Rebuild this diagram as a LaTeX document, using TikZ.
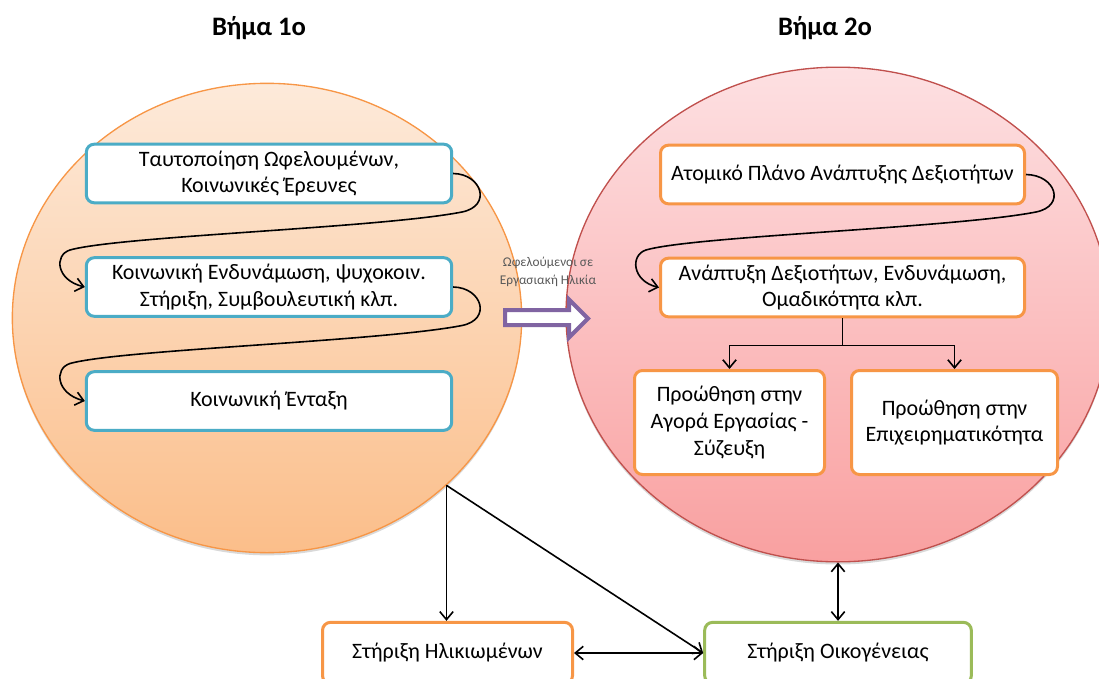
\documentclass[tikz,border=0pt]{standalone}
\usepackage{fontspec}
\setmainfont{Carlito}
\usepackage{tikz}
\usetikzlibrary{arrows.meta,shapes.geometric,shadows,calc}
\definecolor{stblue}{RGB}{75,172,198}
\definecolor{storange}{RGB}{247,150,70}
\definecolor{stgreen}{RGB}{155,187,89}
\definecolor{stpurple}{RGB}{128,100,162}
\definecolor{stred}{RGB}{192,80,77}
\definecolor{stpeachtop}{RGB}{253,234,218}
\definecolor{stpeachbot}{RGB}{251,190,138}
\definecolor{stpinktop}{RGB}{253,224,226}
\definecolor{stpinkbot}{RGB}{249,160,160}
\definecolor{stgray}{RGB}{89,89,89}
\tikzstyle{flow} = [line width=1.2pt,->,>={Straight Barb[length=6pt,width=10pt]}]
\tikzstyle{stage} = [ellipse, line width=1pt, drop shadow={opacity=0.3,shadow xshift=0pt,shadow yshift=-2pt}]
\tikzstyle{stepbox} = [rectangle, rounded corners=6pt, line width=2.25pt, fill=white, text centered, align=center, inner sep=2pt, font=\fontsize{16.5}{20}\selectfont]
\tikzstyle{title} = [font=\fontsize{20}{24}\selectfont\bfseries]

\begin{document}
\begin{tikzpicture}[x=0.75pt, y=-0.75pt]
    \useasboundingbox (0,0) rectangle (1099,678);
    \clip (0,0) rectangle (1099,678);

    % Titles
    \node[title] (titleone) at (259,28) {Βήμα 1ο};
    \node[title] (titletwo) at (825,28) {Βήμα 2ο};

    % Steps
    \node[stage, draw=storange, top color=stpeachtop, bottom color=stpeachbot, minimum width=382pt, minimum height=352pt] (stepone) at (267,318) {};
    \node[stage, draw=stred, top color=stpinktop, bottom color=stpinkbot, minimum width=408pt, minimum height=371pt] (steptwo) at (838,314.5) {};

    % Step 1
    \node[stepbox, draw=stblue, minimum width=274pt, minimum height=44pt] (ident) at (269,173.5) {Ταυτοποίηση Ωφελουμένων,\\ Κοινωνικές Έρευνες};
    \node[stepbox, draw=stblue, minimum width=274pt, minimum height=44pt] (empower) at (269,287) {Κοινωνική Ενδυνάμωση, ψυχοκοιν.\\ Στήριξη, Συμβουλευτική κλπ.};
    \node[stepbox, draw=stblue, minimum width=274pt, minimum height=44pt] (integ) at (269,401) {Κοινωνική Ένταξη};

    % Step 2
    \node[stepbox, draw=storange, minimum width=273pt, minimum height=44pt] (plan) at (842.5,174.5) {Ατομικό Πλάνο Ανάπτυξης Δεξιοτήτων};
    \node[stepbox, draw=storange, minimum width=273pt, minimum height=44pt] (skills) at (842.5,287.5) {Ανάπτυξη Δεξιοτήτων, Ενδυνάμωση,\\ Ομαδικότητα κλπ.};
    \node[stepbox, draw=storange, minimum width=142.5pt, minimum height=78pt] (labour) at (729.5,422.5) {Προώθηση στην\\ Αγορά Εργασίας -\\ Σύζευξη};
    \node[stepbox, draw=storange, minimum width=154.5pt, minimum height=78pt] (entre) at (954.5,422.5) {Προώθηση στην\\ Επιχειρηματικότητα};

    % Support
    \node[stepbox, draw=storange, minimum width=187.5pt, minimum height=46pt] (elderly) at (447.5,653) {Στήριξη Ηλικιωμένων};
    \node[stepbox, draw=stgreen, minimum width=200pt, minimum height=46pt] (family) at (838,653) {Στήριξη Οικογένειας};

    % Passage
    \node[font=\fontsize{10}{13.5}\selectfont, text=stgray, align=center] (benef) at (548,272) {Ωφελούμενοι σε\\ Εργασιακή Ηλικία};
    \draw[line width=3pt, draw=stpurple, fill=white] (505,310) -- (569,310) -- (569,299.5) -- (588,318.5) -- (569,337.5) -- (569,325) -- (505,325) -- cycle;

    % Arrows
    \draw[flow] (ident.east) .. controls (482,174) and (492,206) .. (462,212) .. controls (380,228) and (120,236) .. (70,250) .. controls (54,255) and (56,280) .. (empower.west);
    \draw[flow] (empower.east) .. controls (482,287.5) and (492,319.5) .. (462,325.5) .. controls (380,341.5) and (120,349.5) .. (70,363.5) .. controls (54,368.5) and (56,393.5) .. (integ.west);
    \draw[flow] (plan.east) .. controls (1056,175) and (1066,206) .. (1036,212) .. controls (954,228) and (694,236) .. (646,250) .. controls (630,255) and (632,281) .. (skills.west);

    \coordinate (split) at ($(skills.south)+(0,27)$);
    \draw[line width=1.2pt] (skills.south) -- (split);
    \draw[flow] (split) -| (labour.north);
    \draw[flow] (split) -| (entre.north);

    \coordinate (out) at (stepone.-43);
    \draw[flow] (out) -- (out |- elderly.north);
    \draw[flow] (out) -- (family.west);
    \draw[flow, <->] (elderly.east) -- (family.west);
    \draw[flow, <->] (steptwo.south) -- (family.north);
\end{tikzpicture}
\end{document}
